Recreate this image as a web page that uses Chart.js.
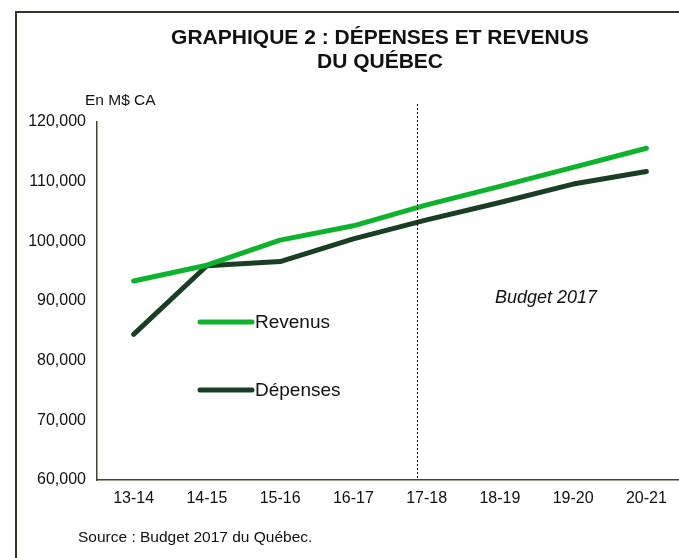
<!DOCTYPE html>
<html>
<head>
<meta charset="utf-8">
<script src="https://cdn.jsdelivr.net/npm/chart.js@4.4.0/dist/chart.umd.min.js"></script>
<style>
    html, body { margin: 0; padding: 0; overflow: hidden; background: #fff; }
    #wrap { position: absolute; left: 0; top: 0; width: 700px; height: 580px; }
</style>
</head>
<body>
<div id="wrap"><canvas id="chart" width="700" height="580"></canvas></div>
<script>
var periodes = ["13-14", "14-15", "15-16", "16-17", "17-18", "18-19", "19-20", "20-21"];
var revenus = [93350, 96000, 100200, 102600, 106100, 109200, 112400, 115600];
var depenses = [84400, 95900, 96600, 100400, 103600, 106500, 109600, 111700];
var titre = ["GRAPHIQUE 2 : DÉPENSES ET REVENUS", "DU QUÉBEC"];
var uniteTxt = "En M$ CA";
var budgetTxt = "Budget 2017";
var sourceTxt = "Source : Budget 2017 du Québec.";

var vert = "#0db32c";
var vertFonce = "#1a3e24";
var axeCouleur = "#3c4630";
var police = "'Liberation Sans', Arial, sans-serif";

var decor = {
    id: "decor",
    beforeDraw: function (chart) {
        var ctx = chart.ctx;
        ctx.save();
        // cadre
        ctx.strokeStyle = "#2f3a24";
        ctx.lineWidth = 2;
        ctx.strokeRect(16, 12, 720, 600);
        ctx.restore();
    },
    afterDatasetsDraw: function (chart) {
        var ctx = chart.ctx;
        var x = chart.scales.x;
        var area = chart.chartArea;
        ctx.save();

        // ligne pointillée avant 17-18
        var step = x.getPixelForValue(1) - x.getPixelForValue(0);
        var lx = Math.round(x.getPixelForValue(4) - step * 0.135) + 0.5;
        ctx.strokeStyle = "#000";
        ctx.lineWidth = 1;
        ctx.setLineDash([2, 2]);
        ctx.beginPath();
        ctx.moveTo(lx, 104);
        ctx.lineTo(lx, area.bottom);
        ctx.stroke();
        ctx.setLineDash([]);

        // titre
        ctx.fillStyle = "#111";
        ctx.textAlign = "center";
        ctx.textBaseline = "middle";
        ctx.font = "bold 21px " + police;
        ctx.fillText(titre[0], 380, 38);
        ctx.fillText(titre[1], 380, 62);

        ctx.textAlign = "left";
        ctx.font = "15.5px " + police;
        ctx.fillText(uniteTxt, 85, 101);

        ctx.font = "italic 18px " + police;
        ctx.fillText(budgetTxt, 495, 298);

        ctx.font = "15.5px " + police;
        ctx.fillText(sourceTxt, 78, 538);

        // légende
        chart.data.datasets.forEach(function (ds, i) {
            var y = 322 + i * 68;
            ctx.strokeStyle = ds.borderColor;
            ctx.lineWidth = 5;
            ctx.lineCap = "round";
            ctx.beginPath();
            ctx.moveTo(200, y);
            ctx.lineTo(252, y);
            ctx.stroke();
            ctx.fillStyle = "#111";
            ctx.font = "19px " + police;
            ctx.fillText(ds.label, 255, y + 1);
        });
        ctx.restore();
    }
};

new Chart(document.getElementById("chart"), {
    type: "line",
    data: {
        labels: periodes,
        datasets: [{
            label: "Revenus",
            data: revenus,
            borderColor: vert,
            backgroundColor: vert,
            borderWidth: 5,
            borderCapStyle: "round",
            borderJoinStyle: "round",
            pointRadius: 0,
            tension: 0
        }, {
            label: "Dépenses",
            data: depenses,
            borderColor: vertFonce,
            backgroundColor: vertFonce,
            borderWidth: 5,
            borderCapStyle: "round",
            borderJoinStyle: "round",
            pointRadius: 0,
            tension: 0
        }]
    },
    options: {
        responsive: false,
        animation: false,
        layout: { padding: { left: 0, right: 17, top: 122, bottom: 0 } },
        plugins: {
            legend: { display: false },
            title: { display: false },
            tooltip: { enabled: false }
        },
        scales: {
            x: {
                offset: true,
                grid: { display: false, drawTicks: false },
                border: { display: true, color: axeCouleur, width: 1.5 },
                ticks: { color: "#111", font: { family: police, size: 16 }, padding: 9, maxRotation: 0 },
                afterFit: function (s) { s.height = 100; }
            },
            y: {
                min: 60000,
                max: 120000,
                grid: { display: false, drawTicks: false },
                border: { display: true, color: axeCouleur, width: 1.5 },
                ticks: {
                    stepSize: 10000,
                    color: "#111",
                    font: { family: police, size: 16 },
                    padding: 11,
                    callback: function (v) { return v.toLocaleString("en-US"); }
                },
                afterFit: function (s) { s.width = 97; }
            }
        }
    },
    plugins: [decor]
});
</script>
</body>
</html>
